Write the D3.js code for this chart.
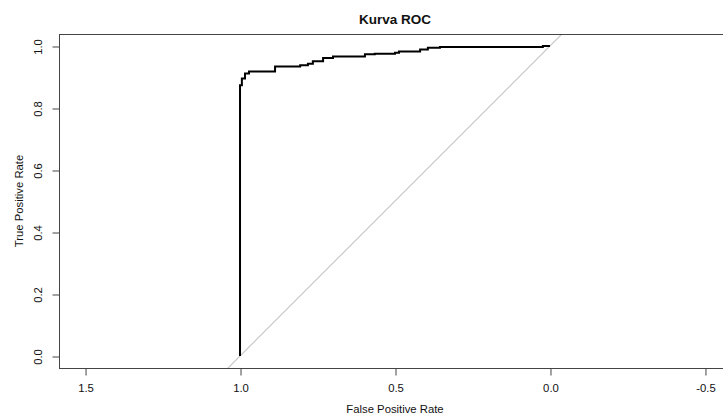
<!DOCTYPE html>
<html>
<head>
<meta charset="utf-8">
<script src="https://cdn.jsdelivr.net/npm/d3@7"></script>
<style>
  body { margin: 0; background: #fff; }
  text { font-family: "Liberation Sans", Arial, sans-serif; }
</style>
</head>
<body>
<div id="graph"></div>
<script>
// ROC points (specificity, sensitivity)
let specificity = [1, 1, 0.994, 0.984, 0.971, 0.887, 0.806, 0.781, 0.765, 0.732, 0.70, 0.597, 0.565, 0.50, 0.487, 0.419, 0.394, 0.355, 0.023, 0];
let sensitivity = [0, 0.873, 0.895, 0.911, 0.918, 0.934, 0.938, 0.943, 0.951, 0.961, 0.966, 0.973, 0.975, 0.978, 0.982, 0.989, 0.994, 0.997, 1.0, 1.0];
let xTicks = [1.5, 1.0, 0.5, 0.0, -0.5];
let yTicks = [0.0, 0.2, 0.4, 0.6, 0.8, 1.0];

let width = 723, height = 417;
let margin = {top: 34, right: -8, bottom: 49, left: 59};

let svg = d3.select("#graph")
  .append("svg")
  .attr("width", width)
  .attr("height", height);

let x = d3.scaleLinear()
  .domain([1.584, -0.584])
  .range([margin.left, width - margin.right]);

let y = d3.scaleLinear()
  .domain([-0.0387, 1.0387])
  .range([height - margin.bottom, margin.top]);

let fs = 11.3;
// R style labels, plain hyphen for minus
let fmt = d => d.toFixed(1);

// clip for the plot region
svg.append("clipPath").attr("id", "clip")
  .append("rect")
  .attr("x", margin.left).attr("y", margin.top)
  .attr("width", x.range()[1] - margin.left)
  .attr("height", y.range()[0] - margin.top);

// identity line
svg.append("line")
  .attr("clip-path", "url(#clip)")
  .attr("x1", x(1.2)).attr("y1", y(-0.2))
  .attr("x2", x(-0.2)).attr("y2", y(1.2))
  .attr("stroke", "#c4c4c4")
  .attr("stroke-width", 1.1);

// ROC curve
let pts = specificity.map((s, i) => [s, sensitivity[i]]);
svg.append("path")
  .datum(pts)
  .attr("fill", "none")
  .attr("stroke", "#000")
  .attr("stroke-width", 2)
  .attr("d", d3.line()
    .x(d => x(d[0]))
    .y(d => y(d[1]))
    .curve(d3.curveStepAfter));

// box
svg.append("rect")
  .attr("x", margin.left + 0.5).attr("y", margin.top + 0.5)
  .attr("width", x.range()[1] - margin.left)
  .attr("height", y.range()[0] - margin.top)
  .attr("fill", "none")
  .attr("stroke", "#444")
  .attr("stroke-width", 1);

// x axis
let xAxis = svg.append("g")
  .attr("transform", `translate(0.5, ${y.range()[0] + 0.5})`)
  .call(d3.axisBottom(x).tickValues(xTicks).tickSize(7).tickPadding(8)
    .tickFormat(fmt));
xAxis.select(".domain").attr("stroke", "#444")
  .attr("d", `M${x(1.5)},0H${x(-0.5)}`);
xAxis.selectAll(".tick line").attr("stroke", "#444");
xAxis.selectAll("text")
  .attr("font-size", fs)
  .attr("font-family", "Liberation Sans, Arial, sans-serif")
  .attr("fill", "#111");

// y axis
let yAxis = svg.append("g")
  .attr("transform", `translate(${margin.left + 0.5}, 0.5)`)
  .call(d3.axisLeft(y).tickValues(yTicks).tickSize(7).tickFormat(fmt));
yAxis.select(".domain").attr("stroke", "#444")
  .attr("d", `M0,${y(0)}V${y(1)}`);
yAxis.selectAll(".tick line").attr("stroke", "#444");
yAxis.selectAll("text")
  .attr("font-size", fs)
  .attr("font-family", "Liberation Sans, Arial, sans-serif")
  .attr("fill", "#111")
  .attr("x", null).attr("dy", null)
  .attr("text-anchor", "middle")
  .attr("transform", "translate(-20,0) rotate(-90)")
  .attr("dominant-baseline", "middle");

// titles
let cx = (margin.left + x.range()[1]) / 2;
svg.append("text")
  .attr("x", cx).attr("y", 20)
  .attr("text-anchor", "middle")
  .attr("dominant-baseline", "middle")
  .attr("font-weight", "bold")
  .attr("font-size", 13.5)
  .attr("fill", "#111")
  .text("Kurva ROC");

svg.append("text")
  .attr("x", cx).attr("y", 410)
  .attr("text-anchor", "middle")
  .attr("dominant-baseline", "middle")
  .attr("font-size", fs)
  .attr("fill", "#111")
  .text("False Positive Rate");

svg.append("text")
  .attr("transform", `translate(20, ${(margin.top + y.range()[0]) / 2}) rotate(-90)`)
  .attr("text-anchor", "middle")
  .attr("dominant-baseline", "middle")
  .attr("font-size", fs)
  .attr("fill", "#111")
  .text("True Positive Rate");
</script>
</body>
</html>
